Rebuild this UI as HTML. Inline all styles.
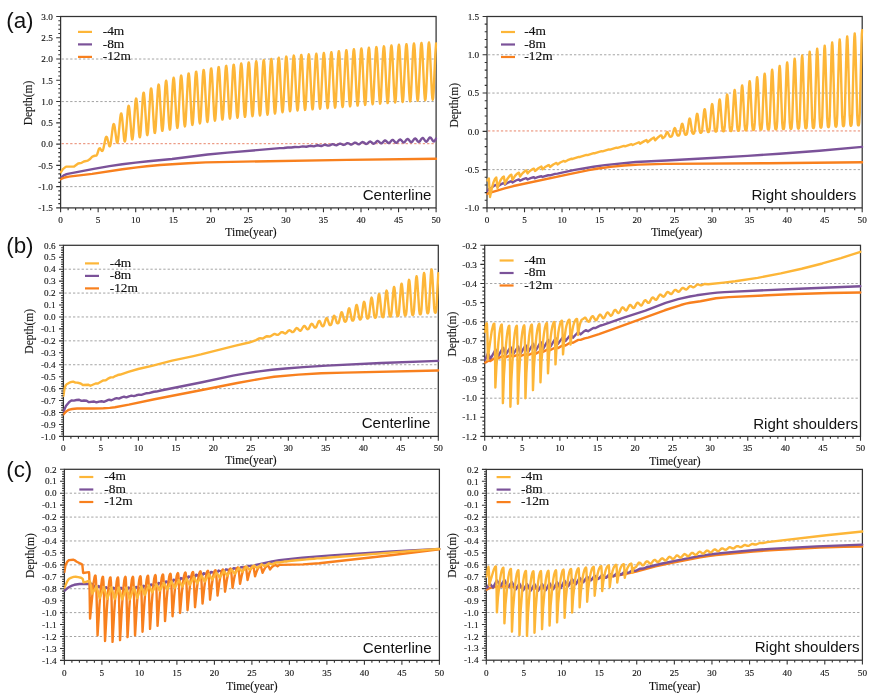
<!DOCTYPE html>
<html><head><meta charset="utf-8"><title>Depth vs time</title>
<style>
html,body{margin:0;padding:0;background:#fff;}
svg{display:block;}
.tl{font-family:"Liberation Serif","Times New Roman",serif;font-size:9.2px;fill:#111;stroke:#111;stroke-width:0.12px;}
.at{font-family:"Liberation Serif","Times New Roman",serif;font-size:11.5px;fill:#111;stroke:#111;stroke-width:0.12px;}
.lg{font-family:"Liberation Serif","Times New Roman",serif;font-size:13.4px;fill:#111;stroke:#111;stroke-width:0.15px;}
.pt{font-family:"Liberation Sans",Arial,sans-serif;font-size:15.1px;fill:#111;}
.pl{font-family:"Liberation Sans",Arial,sans-serif;font-size:22.4px;fill:#111;}
</style></head><body>
<svg width="875" height="699" viewBox="0 0 875 699">
<rect width="875" height="699" fill="#fff"/>

<text x="6.2" y="28.0" class="pl">(a)</text>
<text x="6.2" y="252.9" class="pl">(b)</text>
<text x="6.2" y="476.6" class="pl">(c)</text>
<clipPath id="c622"><rect x="60.00" y="15.90" width="377.30" height="192.60"/></clipPath>
<line x1="61.60" y1="59.03" x2="435.10" y2="59.03" stroke="#a4a4a4" stroke-width="1" stroke-dasharray="2.3 2.0"/>
<line x1="61.60" y1="101.57" x2="435.10" y2="101.57" stroke="#a4a4a4" stroke-width="1" stroke-dasharray="2.3 2.0"/>
<line x1="61.60" y1="186.63" x2="435.10" y2="186.63" stroke="#a4a4a4" stroke-width="1" stroke-dasharray="2.3 2.0"/>
<line x1="61.60" y1="143.70" x2="435.10" y2="143.70" stroke="#E8856A" stroke-width="1" stroke-dasharray="2.3 2.0"/>
<rect x="60.60" y="16.50" width="375.50" height="191.40" fill="none" stroke="#333333" stroke-width="1.25"/>
<g clip-path="url(#c622)" fill="none" stroke-width="2.40" stroke-linejoin="round" stroke-linecap="round">
<path stroke="#7B5299" d="M60.60 177.70L64.36 175.08L65.71 174.48L67.66 173.93L93.79 168.91L109.49 166.18L122.26 164.29L135.62 162.58L148.32 161.19L172.05 159.01L207.65 154.50L227.55 152.61L279.89 148.17L283.87 148.01L287.70 147.53L291.38 147.53L294.91 146.95L298.82 147.11L302.72 146.36L306.25 146.72L310.08 145.81L313.84 146.33L317.44 145.27L321.27 145.98L322.25 145.75L324.28 144.87L325.25 144.74L327.88 145.53L328.78 145.62L329.76 145.36L331.71 144.38L332.61 144.20L333.51 144.36L335.39 145.16L336.29 145.27L337.12 145.05L339.07 143.92L339.97 143.66L340.80 143.77L342.83 144.77L343.80 144.94L344.63 144.69L346.58 143.40L347.48 143.11L348.46 143.31L350.49 144.49L351.31 144.62L352.29 144.25L354.17 142.84L354.99 142.57L355.97 142.80L358.00 144.16L358.82 144.31L359.80 143.90L361.68 142.33L362.50 142.03L363.48 142.30L365.51 143.83L366.33 144.01L367.31 143.56L369.19 141.82L370.01 141.49L370.99 141.80L373.02 143.51L373.84 143.71L374.82 143.22L376.70 141.32L377.52 140.97L378.50 141.32L380.53 143.19L381.35 143.41L382.33 142.88L384.21 140.83L385.03 140.45L386.01 140.84L388.04 142.87L388.86 143.11L389.84 142.54L391.72 140.34L392.54 139.94L393.37 140.24L395.32 142.37L396.30 142.82L397.12 142.43L399.08 140.01L400.05 139.44L400.88 139.76L402.83 142.05L403.81 142.53L404.63 142.11L406.59 139.54L407.56 138.94L408.39 139.28L410.34 141.72L411.32 142.24L412.14 141.80L414.10 139.08L415.07 138.44L415.90 138.81L417.85 141.41L418.38 141.85L418.83 141.96L419.65 141.50L421.61 138.62L422.58 137.95L423.41 138.34L425.36 141.10L425.89 141.56L426.34 141.68L427.16 141.20L429.12 138.17L429.64 137.64L430.09 137.46L430.92 137.88L432.87 140.79L433.40 141.28L433.85 141.42L434.75 140.81L436.10 138.55"/>
<path stroke="#F8801E" d="M60.60 179.19L64.73 177.49L68.79 176.65L92.14 173.93L122.48 169.31L137.05 167.35L146.74 166.24L160.03 165.02L188.19 163.18L205.62 162.42L231.45 161.83L347.26 159.90L436.10 158.77"/>
<path stroke="#FDB638" d="M60.60 172.51L62.93 169.10L65.71 166.87L66.53 166.64L74.12 166.56L78.17 163.50L81.63 162.81L83.88 161.54L87.86 160.60L89.74 159.35L92.37 156.55L94.62 155.75L96.50 155.50L97.25 154.18L98.75 149.29L99.50 148.33L99.88 148.32L100.25 148.59L101.75 150.82L102.13 151.01L102.43 150.89L102.96 149.99L103.48 148.24L105.51 138.52L105.96 137.26L106.34 136.80L106.79 137.02L107.24 138.05L109.11 145.57L109.49 146.28L109.87 146.29L110.32 145.28L110.77 143.13L112.72 127.65L113.25 124.89L113.70 123.96L114.15 124.47L114.67 126.78L116.62 141.18L117.00 142.53L117.38 142.78L117.75 141.84L118.20 139.17L120.15 118.33L120.68 114.62L121.13 113.42L121.36 113.58L121.58 114.25L122.11 117.66L124.06 138.69L124.51 141.11L124.74 141.53L124.89 141.50L125.34 139.89L125.86 135.35L127.81 109.82L128.27 106.66L128.64 105.78L129.09 106.97L129.62 111.20L131.57 136.12L132.02 138.92L132.25 139.41L132.40 139.36L132.85 137.48L133.37 132.23L135.25 103.83L135.70 99.89L136.08 98.59L136.30 98.75L136.53 99.60L137.05 104.11L139.08 133.55L139.53 136.72L139.76 137.27L139.91 137.23L140.36 135.14L140.88 129.31L142.76 98.16L143.21 93.95L143.59 92.63L143.81 92.87L144.04 93.88L144.56 98.94L146.59 131.12L147.04 134.55L147.27 135.15L147.42 135.10L147.87 132.88L148.32 127.79L150.27 94.04L150.72 89.70L151.10 88.38L151.32 88.67L151.55 89.75L152.07 95.11L154.02 127.95L154.47 132.01L154.70 132.90L154.93 132.97L155.38 130.67L155.83 125.37L157.78 90.39L158.23 85.90L158.61 84.55L158.83 84.86L159.06 85.99L159.58 91.55L161.53 125.58L161.99 129.82L162.21 130.76L162.44 130.85L162.89 128.50L163.34 123.05L165.29 86.76L165.74 82.10L166.12 80.73L166.49 81.77L166.94 86.07L168.89 121.89L169.42 127.95L169.87 129.64L170.25 128.33L170.70 123.66L172.65 86.12L173.17 79.69L173.63 77.75L174.00 78.88L174.45 83.35L176.40 120.07L176.93 126.23L177.38 127.94L177.83 126.04L178.36 119.63L180.38 80.75L180.91 76.14L181.14 75.62L181.36 76.01L181.74 78.64L182.19 84.68L183.99 119.57L184.44 124.68L184.89 126.41L185.34 124.50L185.87 118.02L187.89 78.67L188.35 74.39L188.57 73.57L188.80 73.66L189.25 76.57L189.70 82.70L191.57 119.11L192.03 123.75L192.40 124.96L192.85 123.03L193.38 116.50L195.33 77.86L195.78 73.01L196.01 71.88L196.23 71.67L196.68 74.01L197.13 79.70L199.08 117.59L199.53 122.26L199.91 123.47L200.36 121.53L200.89 114.96L202.84 76.16L203.29 71.29L203.52 70.16L203.74 69.96L204.19 72.32L204.64 78.04L206.59 116.10L207.04 120.78L207.42 122.01L207.87 120.06L208.40 113.48L210.35 74.62L210.80 69.76L211.03 68.63L211.25 68.43L211.70 70.81L212.15 76.56L214.10 114.76L214.56 119.47L214.93 120.71L215.38 118.78L215.91 112.19L217.86 73.27L218.31 68.40L218.54 67.27L218.76 67.08L219.21 69.48L219.66 75.25L221.61 113.63L222.06 118.37L222.44 119.62L222.89 117.69L223.42 111.09L225.37 72.05L225.82 67.17L226.05 66.04L226.27 65.85L226.72 68.26L227.17 74.07L229.12 112.62L229.57 117.38L229.95 118.64L230.40 116.71L230.93 110.09L232.88 70.91L233.33 66.02L233.56 64.88L233.78 64.69L234.23 67.12L234.68 72.95L236.63 111.68L237.09 116.46L237.46 117.73L237.84 116.37L238.29 111.47L240.24 72.14L240.76 65.48L241.22 63.52L241.59 64.78L242.04 69.57L243.99 108.48L244.52 115.03L244.97 116.88L245.35 115.52L245.80 110.60L247.75 71.06L248.27 64.35L248.73 62.38L249.10 63.64L249.55 68.47L251.50 107.69L252.03 114.30L252.48 116.16L252.86 114.80L253.31 109.85L255.26 69.98L255.78 63.22L256.24 61.23L256.61 62.51L257.06 67.38L259.01 106.94L259.54 113.61L259.99 115.49L260.37 114.11L260.82 109.12L262.77 68.92L263.29 62.10L263.75 60.10L264.12 61.40L264.57 66.30L266.52 106.13L267.05 112.82L267.50 114.71L267.88 113.31L268.33 108.27L270.28 67.83L270.80 60.98L271.26 58.98L271.71 60.85L272.23 67.54L274.18 107.40L274.63 112.31L275.01 113.60L275.46 111.59L275.99 104.73L277.94 64.24L278.39 59.18L278.77 57.77L279.14 59.06L279.59 63.97L281.54 103.80L282.07 110.48L282.52 112.34L282.97 110.33L283.50 103.48L285.45 63.03L285.90 57.98L286.28 56.57L286.65 57.87L287.10 62.79L289.05 102.70L289.58 109.42L290.03 111.31L290.41 109.91L290.86 104.88L292.81 64.42L293.33 57.58L293.79 55.59L294.16 56.90L294.61 61.85L296.56 101.92L297.09 108.66L297.54 110.56L297.99 108.58L298.52 101.74L300.47 61.30L300.92 56.26L301.30 54.88L301.67 56.20L302.12 61.16L304.07 101.28L304.60 108.02L305.05 109.93L305.50 107.95L306.03 101.12L307.98 60.71L308.43 55.68L308.81 54.30L309.26 56.21L309.78 62.95L311.73 103.06L312.19 108.02L312.56 109.35L312.94 107.97L313.39 102.94L315.34 62.53L315.86 55.70L316.32 53.72L316.69 55.05L317.14 60.01L319.09 100.11L319.62 106.86L320.07 108.77L320.45 107.38L320.90 102.35L322.85 61.88L323.37 55.03L323.83 53.04L324.20 54.36L324.65 59.32L326.60 99.51L327.13 106.28L327.58 108.20L327.96 106.82L328.41 101.76L330.36 61.07L330.88 54.17L331.34 52.15L331.71 53.47L332.16 58.45L334.11 98.90L334.64 105.72L335.09 107.66L335.47 106.26L335.92 101.16L337.87 60.13L338.39 53.17L338.85 51.13L339.22 52.46L339.67 57.48L341.62 98.25L342.15 105.12L342.60 107.06L342.98 105.65L343.43 100.51L345.38 59.16L345.90 52.16L346.36 50.11L346.73 51.45L347.18 56.50L349.13 97.52L349.66 104.43L350.11 106.37L350.49 104.95L350.94 99.78L352.89 58.27L353.41 51.25L353.87 49.21L354.24 50.56L354.69 55.64L356.64 96.77L357.17 103.68L357.62 105.63L358.07 103.60L358.60 96.58L360.55 55.06L361.00 49.89L361.38 48.47L361.75 49.82L362.20 54.91L364.15 96.06L364.68 102.98L365.13 104.94L365.51 103.51L365.96 98.35L367.91 56.84L368.43 49.82L368.89 47.78L369.26 49.14L369.71 54.23L371.66 95.42L372.19 102.35L372.64 104.30L373.02 102.88L373.47 97.71L375.42 56.16L375.94 49.13L376.40 47.09L376.77 48.44L377.22 53.54L379.17 94.79L379.70 101.74L380.15 103.70L380.53 102.28L380.98 97.09L382.93 55.43L383.45 48.38L383.91 46.33L384.28 47.69L384.73 52.79L386.68 94.18L387.21 101.14L387.66 103.12L388.04 101.69L388.49 96.49L390.44 54.68L390.96 47.60L391.42 45.54L391.79 46.91L392.24 52.03L394.19 93.57L394.72 100.56L395.17 102.54L395.55 101.11L396.00 95.89L397.95 53.94L398.47 46.85L398.93 44.79L399.30 46.16L399.75 51.30L401.70 92.97L402.23 99.98L402.68 101.96L403.06 100.53L403.51 95.30L405.46 53.27L405.98 46.17L406.44 44.12L406.81 45.49L407.26 50.65L409.21 92.38L409.74 99.40L410.19 101.39L410.57 99.95L411.02 94.72L412.97 52.67L413.49 45.57L413.95 43.52L414.32 44.90L414.77 50.06L416.72 91.81L417.25 98.83L417.70 100.81L418.15 98.76L418.68 91.66L420.63 49.62L421.08 44.39L421.46 42.96L421.91 44.95L422.43 51.97L424.38 93.71L424.84 98.87L425.21 100.25L425.66 98.19L426.19 91.10L428.14 49.11L428.59 43.88L428.97 42.45L429.42 44.44L429.94 51.46L431.89 93.16L432.35 98.31L432.72 99.69L433.17 97.64L433.62 91.84L435.35 53.90L436.10 43.43"/>
</g>
<line x1="78.00" y1="31.90" x2="92.00" y2="31.90" stroke="#FDB638" stroke-width="2.2"/>
<text x="102.70" y="35.10" class="lg">-4m</text>
<line x1="78.00" y1="44.40" x2="92.00" y2="44.40" stroke="#7B5299" stroke-width="2.2"/>
<text x="102.70" y="47.60" class="lg">-8m</text>
<line x1="78.00" y1="56.90" x2="92.00" y2="56.90" stroke="#F8801E" stroke-width="2.2"/>
<text x="102.70" y="60.10" class="lg">-12m</text>
<text x="52.80" y="19.70" class="tl" text-anchor="end">3.0</text>
<text x="52.80" y="40.97" class="tl" text-anchor="end">2.5</text>
<text x="52.80" y="62.23" class="tl" text-anchor="end">2.0</text>
<text x="52.80" y="83.50" class="tl" text-anchor="end">1.5</text>
<text x="52.80" y="104.77" class="tl" text-anchor="end">1.0</text>
<text x="52.80" y="126.03" class="tl" text-anchor="end">0.5</text>
<text x="52.80" y="147.30" class="tl" text-anchor="end">0.0</text>
<text x="52.80" y="168.57" class="tl" text-anchor="end">-0.5</text>
<text x="52.80" y="189.83" class="tl" text-anchor="end">-1.0</text>
<text x="52.80" y="211.10" class="tl" text-anchor="end">-1.5</text>
<text x="60.60" y="222.70" class="tl" text-anchor="middle">0</text>
<text x="98.15" y="222.70" class="tl" text-anchor="middle">5</text>
<text x="135.70" y="222.70" class="tl" text-anchor="middle">10</text>
<text x="173.25" y="222.70" class="tl" text-anchor="middle">15</text>
<text x="210.80" y="222.70" class="tl" text-anchor="middle">20</text>
<text x="248.35" y="222.70" class="tl" text-anchor="middle">25</text>
<text x="285.90" y="222.70" class="tl" text-anchor="middle">30</text>
<text x="323.45" y="222.70" class="tl" text-anchor="middle">35</text>
<text x="361.00" y="222.70" class="tl" text-anchor="middle">40</text>
<text x="398.55" y="222.70" class="tl" text-anchor="middle">45</text>
<text x="436.10" y="222.70" class="tl" text-anchor="middle">50</text>
<path d="M60.60 16.50H56.20M60.60 20.75H58.30M60.60 25.01H58.30M60.60 29.26H58.30M60.60 33.51H58.30M60.60 37.77H56.20M60.60 42.02H58.30M60.60 46.27H58.30M60.60 50.53H58.30M60.60 54.78H58.30M60.60 59.03H56.20M60.60 63.29H58.30M60.60 67.54H58.30M60.60 71.79H58.30M60.60 76.05H58.30M60.60 80.30H56.20M60.60 84.55H58.30M60.60 88.81H58.30M60.60 93.06H58.30M60.60 97.31H58.30M60.60 101.57H56.20M60.60 105.82H58.30M60.60 110.07H58.30M60.60 114.33H58.30M60.60 118.58H58.30M60.60 122.83H56.20M60.60 127.09H58.30M60.60 131.34H58.30M60.60 135.59H58.30M60.60 139.85H58.30M60.60 144.10H56.20M60.60 148.35H58.30M60.60 152.61H58.30M60.60 156.86H58.30M60.60 161.11H58.30M60.60 165.37H56.20M60.60 169.62H58.30M60.60 173.87H58.30M60.60 178.13H58.30M60.60 182.38H58.30M60.60 186.63H56.20M60.60 190.89H58.30M60.60 195.14H58.30M60.60 199.39H58.30M60.60 203.65H58.30M60.60 207.90H56.20M60.60 207.90V212.30M68.11 207.90V210.20M75.62 207.90V210.20M83.13 207.90V210.20M90.64 207.90V210.20M98.15 207.90V212.30M105.66 207.90V210.20M113.17 207.90V210.20M120.68 207.90V210.20M128.19 207.90V210.20M135.70 207.90V212.30M143.21 207.90V210.20M150.72 207.90V210.20M158.23 207.90V210.20M165.74 207.90V210.20M173.25 207.90V212.30M180.76 207.90V210.20M188.27 207.90V210.20M195.78 207.90V210.20M203.29 207.90V210.20M210.80 207.90V212.30M218.31 207.90V210.20M225.82 207.90V210.20M233.33 207.90V210.20M240.84 207.90V210.20M248.35 207.90V212.30M255.86 207.90V210.20M263.37 207.90V210.20M270.88 207.90V210.20M278.39 207.90V210.20M285.90 207.90V212.30M293.41 207.90V210.20M300.92 207.90V210.20M308.43 207.90V210.20M315.94 207.90V210.20M323.45 207.90V212.30M330.96 207.90V210.20M338.47 207.90V210.20M345.98 207.90V210.20M353.49 207.90V210.20M361.00 207.90V212.30M368.51 207.90V210.20M376.02 207.90V210.20M383.53 207.90V210.20M391.04 207.90V210.20M398.55 207.90V212.30M406.06 207.90V210.20M413.57 207.90V210.20M421.08 207.90V210.20M428.59 207.90V210.20M436.10 207.90V212.30" stroke="#333333" stroke-width="1.1" fill="none"/>
<text x="251.00" y="235.90" class="at" text-anchor="middle">Time(year)</text>
<text x="0" y="0" class="at" text-anchor="middle" transform="translate(31.90 103.00) rotate(-90)">Depth(m)</text>
<text x="431.50" y="200.00" class="pt" text-anchor="end">Centerline</text>
<clipPath id="c4886"><rect x="486.40" y="15.90" width="377.00" height="192.60"/></clipPath>
<line x1="488.00" y1="54.78" x2="861.20" y2="54.78" stroke="#a4a4a4" stroke-width="1" stroke-dasharray="2.3 2.0"/>
<line x1="488.00" y1="93.06" x2="861.20" y2="93.06" stroke="#a4a4a4" stroke-width="1" stroke-dasharray="2.3 2.0"/>
<line x1="488.00" y1="169.62" x2="861.20" y2="169.62" stroke="#a4a4a4" stroke-width="1" stroke-dasharray="2.3 2.0"/>
<line x1="488.00" y1="130.94" x2="861.20" y2="130.94" stroke="#E8856A" stroke-width="1" stroke-dasharray="2.3 2.0"/>
<rect x="487.00" y="16.50" width="375.20" height="191.40" fill="none" stroke="#333333" stroke-width="1.25"/>
<g clip-path="url(#c4886)" fill="none" stroke-width="2.40" stroke-linejoin="round" stroke-linecap="round">
<path stroke="#7B5299" d="M487.00 191.47L488.88 188.88L490.00 189.52L491.13 188.09L492.25 187.06L493.90 185.94L495.55 185.16L496.38 184.90L497.51 186.45L500.73 184.39L503.51 183.14L503.88 183.02L505.01 184.51L508.09 182.58L510.71 181.34L511.39 181.12L512.51 182.51L515.89 180.50L518.82 179.39L520.02 180.76L523.24 179.14L526.17 178.22L526.40 178.19L527.52 179.51L530.60 178.12L533.52 177.27L533.90 177.21L535.03 178.25L537.65 177.20L540.28 176.49L541.40 176.28L542.53 176.95L548.23 175.24L548.91 175.10L550.03 175.38L555.14 173.90L557.54 173.60L573.45 170.11L593.56 166.70L604.89 165.08L635.73 161.99L666.42 160.52L706.87 158.29L747.46 155.88L779.43 153.76L819.43 150.68L862.20 146.88"/>
<path stroke="#F8801E" d="M487.00 193.89L492.10 192.13L504.63 188.35L513.49 186.04L568.27 174.36L588.75 170.16L598.21 168.46L610.52 166.86L624.10 165.49L638.88 164.61L664.62 163.92L767.65 163.29L862.20 162.27"/>
<path stroke="#FDB638" d="M487.00 180.34L487.53 180.09L488.88 178.50L490.00 197.03L491.95 187.91L493.38 182.61L494.80 179.16L495.55 178.09L496.30 177.53L497.51 188.07L498.93 183.76L500.51 180.28L502.16 177.82L503.06 176.95L503.81 176.53L505.01 183.71L506.44 180.62L507.86 178.16L509.36 176.20L510.79 174.96L511.39 174.67L512.51 179.88L515.06 175.92L516.42 174.40L517.77 173.28L518.89 172.68L520.02 176.51L521.67 174.29L523.32 172.49L524.97 171.12L526.40 170.39L527.52 173.45L529.02 171.80L530.60 170.43L532.17 169.39L533.75 168.67L533.90 168.62L535.03 171.00L538.70 168.00L541.40 166.56L542.53 169.31L545.53 166.71L548.53 165.14L548.91 165.03L550.03 167.02L553.26 164.49L556.11 162.98L556.41 162.88L557.54 164.41L560.24 162.52L563.02 161.23L563.92 160.94L565.04 161.63L567.67 160.22L570.44 159.08L571.42 158.76L572.55 158.97L578.77 156.84L580.05 156.96L586.43 154.95L587.55 155.13L593.71 153.12L595.06 153.23L600.76 151.37L601.44 151.19L602.56 151.37L608.94 149.42L610.07 149.61L616.44 147.72L617.57 147.94L623.95 145.96L625.07 146.42L631.45 144.15L632.58 145.01L638.96 142.24L640.08 143.65L644.28 141.15L646.46 140.10L647.59 142.20L651.56 139.01L653.96 137.59L655.09 140.31L658.24 137.19L660.57 135.40L661.47 135.42L662.59 138.24L664.09 137.31L665.07 136.19L666.57 132.80L667.17 132.08L667.55 132.19L667.92 132.68L669.72 136.41L670.25 136.73L671.15 136.64L671.75 136.26L672.27 135.34L674.00 129.21L674.68 128.10L675.05 128.32L675.43 129.13L676.63 133.43L677.23 134.97L677.83 135.55L678.73 135.48L679.25 135.04L679.78 133.77L681.43 125.46L681.80 124.16L682.18 123.65L682.55 124.04L682.93 125.26L684.66 133.66L685.26 134.70L686.16 134.73L686.76 134.10L687.28 132.31L688.93 120.81L689.31 119.07L689.68 118.45L689.98 118.85L690.36 120.39L692.16 132.27L692.76 133.63L693.59 133.71L694.19 133.07L694.71 131.07L696.44 116.48L696.81 114.40L697.11 113.73L697.49 114.26L697.86 116.22L699.66 130.94L700.26 132.63L700.56 132.81L701.09 132.77L701.69 132.02L702.21 129.65L703.94 112.35L704.32 109.91L704.62 109.14L704.99 109.81L705.37 112.16L707.17 129.72L707.77 131.75L708.07 131.98L708.59 131.96L708.89 131.75L709.19 131.11L709.72 128.32L711.44 107.84L711.82 104.97L712.12 104.08L712.50 104.93L712.87 107.77L714.67 128.79L715.27 131.23L715.57 131.52L716.10 131.53L716.40 131.30L716.70 130.57L717.22 127.35L718.95 103.75L719.32 100.47L719.62 99.49L720.00 100.50L720.37 103.82L722.18 128.10L722.78 130.93L723.08 131.27L723.60 131.28L723.90 131.03L724.20 130.19L724.73 126.50L726.45 99.42L726.83 95.69L727.13 94.59L727.50 95.79L727.88 99.62L729.68 127.45L730.28 130.66L730.58 131.05L731.11 131.07L731.41 130.78L731.71 129.84L732.23 125.67L733.96 95.34L734.33 91.20L734.63 90.00L735.01 91.37L735.38 95.68L737.18 126.74L737.78 130.32L738.08 130.74L738.61 130.75L738.91 130.42L739.21 129.38L739.73 124.76L741.46 91.25L741.84 86.71L742.14 85.40L742.51 86.95L742.89 91.72L744.69 125.94L745.29 129.85L745.59 130.32L746.11 130.33L746.41 129.97L746.71 128.83L747.24 123.79L748.96 87.41L749.34 82.50L749.64 81.12L750.02 82.83L750.39 88.04L752.19 125.17L752.79 129.40L753.09 129.91L753.62 129.93L753.92 129.55L754.22 128.32L754.74 122.92L756.47 83.97L756.84 78.75L757.14 77.29L757.52 79.15L757.89 84.76L759.70 124.54L760.30 129.08L760.60 129.63L761.12 129.65L761.42 129.26L761.72 127.96L762.25 122.20L763.97 80.72L764.35 75.16L764.65 73.61L765.02 75.61L765.40 81.59L767.20 123.99L767.80 128.84L768.10 129.43L768.63 129.46L768.93 129.04L769.23 127.65L769.75 121.52L771.48 77.27L771.85 71.35L772.15 69.71L772.53 71.85L772.90 78.24L774.70 123.47L775.30 128.63L775.60 129.26L776.13 129.29L776.43 128.84L776.73 127.37L777.25 120.87L778.98 74.01L779.36 67.76L779.66 66.03L780.03 68.32L780.41 75.10L782.21 122.96L782.81 128.41L783.11 129.07L783.63 129.11L783.93 128.64L784.23 127.08L784.76 120.22L786.41 72.63L786.78 65.20L787.16 62.44L787.54 64.84L787.91 71.99L789.71 122.41L790.31 128.15L790.61 128.85L791.14 128.88L791.44 128.38L791.74 126.74L792.26 119.50L793.91 69.32L794.29 61.50L794.66 58.61L795.04 61.17L795.41 68.74L797.14 120.52L797.74 127.50L798.04 128.50L798.57 128.66L798.94 128.10L799.24 126.39L799.77 118.84L801.42 66.66L801.79 58.54L802.17 55.55L802.54 58.22L802.92 66.07L804.64 119.90L805.24 127.16L805.54 128.21L806.07 128.37L806.45 127.79L806.75 126.00L807.27 118.09L808.92 63.37L809.30 54.86L809.67 51.72L810.05 54.53L810.42 62.78L812.15 119.20L812.75 126.79L813.05 127.88L813.57 128.05L813.95 127.45L814.25 125.58L814.77 117.36L816.43 60.67L816.80 51.88L817.18 48.66L817.55 51.59L817.93 60.14L819.65 118.54L820.25 126.38L820.55 127.51L821.08 127.68L821.45 127.05L821.75 125.12L822.28 116.61L823.93 58.01L824.30 48.92L824.68 45.59L825.06 48.63L825.43 57.47L827.16 117.78L827.76 125.88L828.06 127.03L828.58 127.20L828.96 126.55L829.26 124.56L829.78 115.78L831.43 55.33L831.81 45.96L832.18 42.53L832.56 45.66L832.93 54.79L834.66 116.97L835.26 125.32L835.56 126.51L836.09 126.68L836.46 126.01L836.76 123.96L837.29 114.91L838.94 52.64L839.31 43.00L839.69 39.47L840.06 42.70L840.44 52.10L842.16 116.16L842.76 124.77L843.06 126.00L843.59 126.18L843.97 125.49L844.27 123.38L844.79 114.07L846.44 49.96L846.82 40.04L847.19 36.41L847.57 39.74L847.94 49.43L849.67 115.42L850.27 124.29L850.57 125.56L850.79 125.77L851.09 125.75L851.47 125.05L851.77 122.88L852.29 113.30L853.95 47.29L854.32 37.08L854.70 33.34L855.07 36.78L855.45 46.76L857.17 114.72L857.77 123.86L858.07 125.17L858.30 125.39L858.60 125.37L858.97 124.65L859.27 122.42L859.80 112.56L861.45 44.63L861.82 34.12L862.20 30.28"/>
</g>
<line x1="501.00" y1="32.00" x2="515.00" y2="32.00" stroke="#FDB638" stroke-width="2.2"/>
<text x="524.30" y="35.20" class="lg">-4m</text>
<line x1="501.00" y1="44.50" x2="515.00" y2="44.50" stroke="#7B5299" stroke-width="2.2"/>
<text x="524.30" y="47.70" class="lg">-8m</text>
<line x1="501.00" y1="57.00" x2="515.00" y2="57.00" stroke="#F8801E" stroke-width="2.2"/>
<text x="524.30" y="60.20" class="lg">-12m</text>
<text x="479.20" y="19.70" class="tl" text-anchor="end">1.5</text>
<text x="479.20" y="57.98" class="tl" text-anchor="end">1.0</text>
<text x="479.20" y="96.26" class="tl" text-anchor="end">0.5</text>
<text x="479.20" y="134.54" class="tl" text-anchor="end">0.0</text>
<text x="479.20" y="172.82" class="tl" text-anchor="end">-0.5</text>
<text x="479.20" y="211.10" class="tl" text-anchor="end">-1.0</text>
<text x="487.00" y="222.70" class="tl" text-anchor="middle">0</text>
<text x="524.52" y="222.70" class="tl" text-anchor="middle">5</text>
<text x="562.04" y="222.70" class="tl" text-anchor="middle">10</text>
<text x="599.56" y="222.70" class="tl" text-anchor="middle">15</text>
<text x="637.08" y="222.70" class="tl" text-anchor="middle">20</text>
<text x="674.60" y="222.70" class="tl" text-anchor="middle">25</text>
<text x="712.12" y="222.70" class="tl" text-anchor="middle">30</text>
<text x="749.64" y="222.70" class="tl" text-anchor="middle">35</text>
<text x="787.16" y="222.70" class="tl" text-anchor="middle">40</text>
<text x="824.68" y="222.70" class="tl" text-anchor="middle">45</text>
<text x="862.20" y="222.70" class="tl" text-anchor="middle">50</text>
<path d="M487.00 16.50H482.60M487.00 24.16H484.70M487.00 31.81H484.70M487.00 39.47H484.70M487.00 47.12H484.70M487.00 54.78H482.60M487.00 62.44H484.70M487.00 70.09H484.70M487.00 77.75H484.70M487.00 85.40H484.70M487.00 93.06H482.60M487.00 100.72H484.70M487.00 108.37H484.70M487.00 116.03H484.70M487.00 123.68H484.70M487.00 131.34H482.60M487.00 139.00H484.70M487.00 146.65H484.70M487.00 154.31H484.70M487.00 161.96H484.70M487.00 169.62H482.60M487.00 177.28H484.70M487.00 184.93H484.70M487.00 192.59H484.70M487.00 200.24H484.70M487.00 207.90H482.60M487.00 207.90V212.30M494.50 207.90V210.20M502.01 207.90V210.20M509.51 207.90V210.20M517.02 207.90V210.20M524.52 207.90V212.30M532.02 207.90V210.20M539.53 207.90V210.20M547.03 207.90V210.20M554.54 207.90V210.20M562.04 207.90V212.30M569.54 207.90V210.20M577.05 207.90V210.20M584.55 207.90V210.20M592.06 207.90V210.20M599.56 207.90V212.30M607.06 207.90V210.20M614.57 207.90V210.20M622.07 207.90V210.20M629.58 207.90V210.20M637.08 207.90V212.30M644.58 207.90V210.20M652.09 207.90V210.20M659.59 207.90V210.20M667.10 207.90V210.20M674.60 207.90V212.30M682.10 207.90V210.20M689.61 207.90V210.20M697.11 207.90V210.20M704.62 207.90V210.20M712.12 207.90V212.30M719.62 207.90V210.20M727.13 207.90V210.20M734.63 207.90V210.20M742.14 207.90V210.20M749.64 207.90V212.30M757.14 207.90V210.20M764.65 207.90V210.20M772.15 207.90V210.20M779.66 207.90V210.20M787.16 207.90V212.30M794.66 207.90V210.20M802.17 207.90V210.20M809.67 207.90V210.20M817.18 207.90V210.20M824.68 207.90V212.30M832.18 207.90V210.20M839.69 207.90V210.20M847.19 207.90V210.20M854.70 207.90V210.20M862.20 207.90V212.30" stroke="#333333" stroke-width="1.1" fill="none"/>
<text x="676.80" y="235.90" class="at" text-anchor="middle">Time(year)</text>
<text x="0" y="0" class="at" text-anchor="middle" transform="translate(458.20 105.20) rotate(-90)">Depth(m)</text>
<text x="856.30" y="199.80" class="pt" text-anchor="end">Right shoulders</text>
<clipPath id="c879"><rect x="62.80" y="244.70" width="376.70" height="192.30"/></clipPath>
<line x1="64.40" y1="269.19" x2="437.30" y2="269.19" stroke="#a4a4a4" stroke-width="1" stroke-dasharray="2.3 2.0"/>
<line x1="64.40" y1="293.07" x2="437.30" y2="293.07" stroke="#a4a4a4" stroke-width="1" stroke-dasharray="2.3 2.0"/>
<line x1="64.40" y1="316.96" x2="437.30" y2="316.96" stroke="#a4a4a4" stroke-width="1" stroke-dasharray="2.3 2.0"/>
<line x1="64.40" y1="340.85" x2="437.30" y2="340.85" stroke="#a4a4a4" stroke-width="1" stroke-dasharray="2.3 2.0"/>
<line x1="64.40" y1="364.74" x2="437.30" y2="364.74" stroke="#a4a4a4" stroke-width="1" stroke-dasharray="2.3 2.0"/>
<line x1="64.40" y1="388.62" x2="437.30" y2="388.62" stroke="#a4a4a4" stroke-width="1" stroke-dasharray="2.3 2.0"/>
<line x1="64.40" y1="412.51" x2="437.30" y2="412.51" stroke="#a4a4a4" stroke-width="1" stroke-dasharray="2.3 2.0"/>
<rect x="63.40" y="245.30" width="374.90" height="191.10" fill="none" stroke="#333333" stroke-width="1.25"/>
<g clip-path="url(#c879)" fill="none" stroke-width="2.40" stroke-linejoin="round" stroke-linecap="round">
<path stroke="#7B5299" d="M63.40 412.51L64.90 408.21L66.10 405.79L69.02 402.25L70.30 401.18L71.65 400.41L73.90 400.60L76.52 399.96L79.15 399.77L81.40 400.87L83.94 400.52L86.64 400.75L88.89 402.17L94.14 401.51L96.39 402.41L99.17 401.65L101.64 401.23L103.89 401.83L108.39 399.94L109.14 399.75L111.39 400.25L114.24 398.97L116.64 398.19L118.89 398.67L121.73 397.43L124.13 396.72L126.38 397.30L129.01 396.29L131.41 395.69L133.88 396.17L136.43 395.29L138.98 394.67L141.38 394.85L146.63 393.21L148.88 393.16L153.90 391.77L156.38 391.55L160.80 390.46L202.04 382.21L232.93 375.69L245.75 373.32L259.02 371.32L271.92 369.73L285.64 368.44L303.26 367.11L326.58 365.65L381.09 363.01L438.30 360.92"/>
<path stroke="#F8801E" d="M63.40 414.54L65.57 412.02L67.75 410.38L69.32 409.61L72.25 408.98L77.05 408.46L94.14 408.44L103.51 408.18L109.74 407.86L114.91 407.20L128.86 404.68L154.43 399.22L201.96 390.01L237.28 382.95L261.95 378.58L274.09 376.81L298.46 374.58L321.26 373.28L344.72 372.58L438.30 370.47"/>
<path stroke="#FDB638" d="M63.40 395.79L64.52 388.44L65.65 385.54L66.32 384.60L67.15 383.92L69.32 382.67L71.65 381.92L73.15 381.63L75.40 382.62L77.05 382.62L79.07 383.04L80.65 383.51L82.89 385.00L88.14 384.71L90.39 385.76L95.64 383.49L97.89 383.56L102.99 380.54L105.39 380.41L108.01 378.67L110.64 377.37L112.89 377.42L115.29 376.06L117.76 375.04L120.38 374.52L128.33 371.84L138.16 369.00L151.95 365.85L172.05 360.57L192.37 356.35L200.91 354.40L235.63 345.64L249.13 342.53L256.10 340.11L259.25 338.41L260.07 338.30L262.02 338.55L262.92 338.44L265.85 336.63L266.90 336.24L269.60 336.50L270.57 336.37L274.09 334.04L275.14 334.05L277.17 334.87L278.07 334.82L278.97 334.26L280.77 332.52L281.59 332.08L282.49 332.14L284.44 333.32L285.42 333.45L286.39 332.85L288.41 330.66L289.39 330.26L290.21 330.54L292.01 331.99L292.91 332.13L293.81 331.52L295.76 328.70L296.66 328.04L297.56 328.35L299.51 330.52L300.41 330.71L301.31 330.02L303.19 326.75L304.09 325.90L304.54 325.93L304.99 326.27L306.94 329.01L307.38 329.29L307.91 329.28L308.43 328.98L308.88 328.44L310.76 324.63L311.58 323.77L312.03 323.82L312.48 324.22L314.43 327.33L314.88 327.62L315.41 327.61L315.93 327.30L316.46 326.56L318.33 321.86L318.78 321.13L319.16 320.88L319.53 320.99L319.98 321.56L321.86 325.75L322.38 326.24L322.98 326.25L323.51 325.87L323.96 325.09L325.76 319.38L326.20 318.40L326.58 318.04L326.95 318.15L327.40 318.89L329.35 324.54L329.88 325.12L330.48 325.12L331.00 324.72L331.45 323.85L333.33 317.07L333.78 316.05L334.15 315.75L334.53 315.99L334.98 316.93L336.78 322.72L337.30 323.37L337.90 323.39L338.50 322.94L339.03 321.77L340.83 313.85L341.28 312.55L341.65 312.16L342.03 312.45L342.40 313.38L344.28 320.86L344.80 321.66L345.47 321.71L346.07 321.16L346.60 319.69L348.32 310.27L348.70 308.86L349.07 308.24L349.45 308.51L349.90 309.92L351.70 319.32L352.22 320.47L352.52 320.67L352.97 320.64L353.57 320.01L354.10 318.28L355.82 307.18L356.20 305.57L356.57 304.90L356.95 305.26L357.40 306.96L359.20 317.90L359.72 319.23L360.02 319.46L360.47 319.44L361.07 318.77L361.60 316.83L363.32 304.37L363.69 302.55L364.07 301.79L364.44 302.20L364.89 304.14L366.69 316.75L367.22 318.32L367.52 318.61L367.97 318.61L368.57 317.83L369.09 315.55L370.82 300.67L371.19 298.51L371.57 297.61L371.94 298.13L372.39 300.47L374.19 315.54L374.72 317.41L375.02 317.76L375.47 317.78L375.99 317.11L376.52 314.78L378.32 297.42L378.69 295.00L379.07 294.03L379.44 294.66L379.89 297.38L381.69 314.61L382.21 316.75L382.51 317.15L382.96 317.18L383.49 316.44L384.01 313.82L385.81 294.33L386.19 291.64L386.56 290.57L386.94 291.29L387.39 294.36L389.19 313.69L389.71 316.09L390.01 316.54L390.46 316.58L390.99 315.77L391.51 312.86L393.31 291.14L393.69 288.15L394.06 286.98L394.44 287.82L394.89 291.27L396.69 312.87L397.21 315.55L397.51 316.06L397.96 316.10L398.49 315.21L399.01 312.00L400.81 288.17L401.18 284.91L401.56 283.64L401.93 284.56L402.38 288.34L404.18 311.96L404.71 314.89L405.01 315.45L405.46 315.50L405.98 314.53L406.51 311.00L408.31 284.78L408.68 281.19L409.06 279.81L409.43 280.84L409.88 285.02L411.68 311.12L412.21 314.35L412.51 314.96L412.96 315.02L413.48 313.96L414.01 310.11L415.81 281.61L416.18 277.73L416.56 276.26L416.93 277.41L417.31 281.01L419.18 310.24L419.70 313.71L420.00 314.37L420.45 314.42L420.98 313.26L421.50 309.11L423.30 278.69L423.68 274.57L424.05 273.01L424.43 274.23L424.80 278.04L426.68 308.93L427.20 312.59L427.50 313.29L427.95 313.35L428.48 312.12L429.00 307.73L430.80 275.36L431.18 271.01L431.55 269.39L431.93 270.74L432.30 274.87L434.18 308.00L434.70 311.92L435.00 312.67L435.45 312.75L435.75 312.33L436.05 311.05L436.58 305.90L438.30 273.31"/>
</g>
<line x1="85.00" y1="263.40" x2="99.00" y2="263.40" stroke="#FDB638" stroke-width="2.2"/>
<text x="109.70" y="266.60" class="lg">-4m</text>
<line x1="85.00" y1="275.90" x2="99.00" y2="275.90" stroke="#7B5299" stroke-width="2.2"/>
<text x="109.70" y="279.10" class="lg">-8m</text>
<line x1="85.00" y1="288.40" x2="99.00" y2="288.40" stroke="#F8801E" stroke-width="2.2"/>
<text x="109.70" y="291.60" class="lg">-12m</text>
<text x="55.60" y="248.50" class="tl" text-anchor="end">0.6</text>
<text x="55.60" y="260.44" class="tl" text-anchor="end">0.5</text>
<text x="55.60" y="272.39" class="tl" text-anchor="end">0.4</text>
<text x="55.60" y="284.33" class="tl" text-anchor="end">0.3</text>
<text x="55.60" y="296.27" class="tl" text-anchor="end">0.2</text>
<text x="55.60" y="308.22" class="tl" text-anchor="end">0.1</text>
<text x="55.60" y="320.16" class="tl" text-anchor="end">0.0</text>
<text x="55.60" y="332.11" class="tl" text-anchor="end">-0.1</text>
<text x="55.60" y="344.05" class="tl" text-anchor="end">-0.2</text>
<text x="55.60" y="355.99" class="tl" text-anchor="end">-0.3</text>
<text x="55.60" y="367.94" class="tl" text-anchor="end">-0.4</text>
<text x="55.60" y="379.88" class="tl" text-anchor="end">-0.5</text>
<text x="55.60" y="391.82" class="tl" text-anchor="end">-0.6</text>
<text x="55.60" y="403.77" class="tl" text-anchor="end">-0.7</text>
<text x="55.60" y="415.71" class="tl" text-anchor="end">-0.8</text>
<text x="55.60" y="427.66" class="tl" text-anchor="end">-0.9</text>
<text x="55.60" y="439.60" class="tl" text-anchor="end">-1.0</text>
<text x="63.40" y="451.20" class="tl" text-anchor="middle">0</text>
<text x="100.89" y="451.20" class="tl" text-anchor="middle">5</text>
<text x="138.38" y="451.20" class="tl" text-anchor="middle">10</text>
<text x="175.87" y="451.20" class="tl" text-anchor="middle">15</text>
<text x="213.36" y="451.20" class="tl" text-anchor="middle">20</text>
<text x="250.85" y="451.20" class="tl" text-anchor="middle">25</text>
<text x="288.34" y="451.20" class="tl" text-anchor="middle">30</text>
<text x="325.83" y="451.20" class="tl" text-anchor="middle">35</text>
<text x="363.32" y="451.20" class="tl" text-anchor="middle">40</text>
<text x="400.81" y="451.20" class="tl" text-anchor="middle">45</text>
<text x="438.30" y="451.20" class="tl" text-anchor="middle">50</text>
<path d="M63.40 245.30H59.00M63.40 247.69H61.10M63.40 250.08H61.10M63.40 252.47H61.10M63.40 254.86H61.10M63.40 257.24H59.00M63.40 259.63H61.10M63.40 262.02H61.10M63.40 264.41H61.10M63.40 266.80H61.10M63.40 269.19H59.00M63.40 271.58H61.10M63.40 273.97H61.10M63.40 276.35H61.10M63.40 278.74H61.10M63.40 281.13H59.00M63.40 283.52H61.10M63.40 285.91H61.10M63.40 288.30H61.10M63.40 290.69H61.10M63.40 293.07H59.00M63.40 295.46H61.10M63.40 297.85H61.10M63.40 300.24H61.10M63.40 302.63H61.10M63.40 305.02H59.00M63.40 307.41H61.10M63.40 309.80H61.10M63.40 312.19H61.10M63.40 314.57H61.10M63.40 316.96H59.00M63.40 319.35H61.10M63.40 321.74H61.10M63.40 324.13H61.10M63.40 326.52H61.10M63.40 328.91H59.00M63.40 331.30H61.10M63.40 333.68H61.10M63.40 336.07H61.10M63.40 338.46H61.10M63.40 340.85H59.00M63.40 343.24H61.10M63.40 345.63H61.10M63.40 348.02H61.10M63.40 350.40H61.10M63.40 352.79H59.00M63.40 355.18H61.10M63.40 357.57H61.10M63.40 359.96H61.10M63.40 362.35H61.10M63.40 364.74H59.00M63.40 367.13H61.10M63.40 369.51H61.10M63.40 371.90H61.10M63.40 374.29H61.10M63.40 376.68H59.00M63.40 379.07H61.10M63.40 381.46H61.10M63.40 383.85H61.10M63.40 386.24H61.10M63.40 388.62H59.00M63.40 391.01H61.10M63.40 393.40H61.10M63.40 395.79H61.10M63.40 398.18H61.10M63.40 400.57H59.00M63.40 402.96H61.10M63.40 405.35H61.10M63.40 407.74H61.10M63.40 410.12H61.10M63.40 412.51H59.00M63.40 414.90H61.10M63.40 417.29H61.10M63.40 419.68H61.10M63.40 422.07H61.10M63.40 424.46H59.00M63.40 426.84H61.10M63.40 429.23H61.10M63.40 431.62H61.10M63.40 434.01H61.10M63.40 436.40H59.00M63.40 436.40V440.80M70.90 436.40V438.70M78.40 436.40V438.70M85.89 436.40V438.70M93.39 436.40V438.70M100.89 436.40V440.80M108.39 436.40V438.70M115.89 436.40V438.70M123.38 436.40V438.70M130.88 436.40V438.70M138.38 436.40V440.80M145.88 436.40V438.70M153.38 436.40V438.70M160.87 436.40V438.70M168.37 436.40V438.70M175.87 436.40V440.80M183.37 436.40V438.70M190.87 436.40V438.70M198.36 436.40V438.70M205.86 436.40V438.70M213.36 436.40V440.80M220.86 436.40V438.70M228.36 436.40V438.70M235.85 436.40V438.70M243.35 436.40V438.70M250.85 436.40V440.80M258.35 436.40V438.70M265.85 436.40V438.70M273.34 436.40V438.70M280.84 436.40V438.70M288.34 436.40V440.80M295.84 436.40V438.70M303.34 436.40V438.70M310.83 436.40V438.70M318.33 436.40V438.70M325.83 436.40V440.80M333.33 436.40V438.70M340.83 436.40V438.70M348.32 436.40V438.70M355.82 436.40V438.70M363.32 436.40V440.80M370.82 436.40V438.70M378.32 436.40V438.70M385.81 436.40V438.70M393.31 436.40V438.70M400.81 436.40V440.80M408.31 436.40V438.70M415.81 436.40V438.70M423.30 436.40V438.70M430.80 436.40V438.70M438.30 436.40V440.80" stroke="#333333" stroke-width="1.1" fill="none"/>
<text x="251.00" y="464.30" class="at" text-anchor="middle">Time(year)</text>
<text x="0" y="0" class="at" text-anchor="middle" transform="translate(33.40 331.30) rotate(-90)">Depth(m)</text>
<text x="430.50" y="428.30" class="pt" text-anchor="end">Centerline</text>
<clipPath id="c5092"><rect x="484.10" y="244.70" width="377.60" height="192.30"/></clipPath>
<line x1="485.70" y1="283.52" x2="859.50" y2="283.52" stroke="#a4a4a4" stroke-width="1" stroke-dasharray="2.3 2.0"/>
<line x1="485.70" y1="321.74" x2="859.50" y2="321.74" stroke="#a4a4a4" stroke-width="1" stroke-dasharray="2.3 2.0"/>
<line x1="485.70" y1="359.96" x2="859.50" y2="359.96" stroke="#a4a4a4" stroke-width="1" stroke-dasharray="2.3 2.0"/>
<line x1="485.70" y1="398.18" x2="859.50" y2="398.18" stroke="#a4a4a4" stroke-width="1" stroke-dasharray="2.3 2.0"/>
<rect x="484.70" y="245.30" width="375.80" height="191.10" fill="none" stroke="#333333" stroke-width="1.25"/>
<g clip-path="url(#c5092)" fill="none" stroke-width="2.40" stroke-linejoin="round" stroke-linecap="round">
<path stroke="#7B5299" d="M484.70 359.96L486.20 357.70L488.08 352.96L490.34 358.99L495.60 349.55L497.85 356.57L503.11 347.68L505.37 355.02L510.63 347.14L512.88 354.71L518.15 346.61L520.40 353.90L525.66 345.24L527.92 352.44L533.18 343.82L535.43 351.01L540.69 342.06L542.95 349.05L548.21 339.90L550.47 346.55L553.10 342.17L555.73 338.27L557.98 343.86L563.24 336.58L565.50 340.92L570.76 334.41L573.01 337.69L575.64 334.74L578.27 332.17L580.53 334.41L583.16 332.06L585.79 330.11L588.04 331.26L593.31 327.89L595.56 328.04L598.19 326.61L600.82 325.47L603.08 324.91L623.82 317.64L645.47 310.68L665.61 302.86L678.16 299.18L689.89 296.47L696.65 295.31L710.41 293.39L717.09 292.67L724.39 292.16L798.94 288.69L860.50 286.20"/>
<path stroke="#F8801E" d="M484.70 363.02L488.08 360.88L489.13 360.79L490.34 360.99L495.60 357.51L497.85 358.32L503.11 355.97L505.37 357.31L510.63 355.39L512.88 356.72L518.15 354.74L520.40 356.06L525.66 354.00L527.92 355.28L533.18 352.88L535.43 353.89L540.69 350.97L542.95 351.89L548.21 349.08L550.47 350.07L555.73 347.21L557.98 348.12L563.24 344.93L565.50 345.60L570.76 342.35L573.01 342.72L578.27 339.87L580.53 339.87L584.59 338.32L588.04 337.58L599.02 334.10L612.25 329.48L664.71 310.26L680.87 305.02L685.75 303.68L690.04 302.74L700.48 301.22L715.97 298.23L728.59 297.17L789.25 294.27L829.31 293.05L860.50 292.50"/>
<path stroke="#FDB638" d="M484.70 332.25L486.20 324.32L486.73 323.27L486.95 324.25L487.48 336.82L487.86 359.96L488.68 352.18L491.69 331.36L493.12 325.23L493.79 323.89L494.25 323.65L494.32 323.91L494.62 330.00L494.92 344.28L495.37 387.48L496.42 366.39L498.45 341.63L499.36 333.81L500.18 328.60L501.01 325.48L501.39 324.80L501.76 324.61L502.06 329.74L502.36 344.98L502.89 403.15L503.94 375.55L505.74 347.67L506.65 338.00L507.55 331.08L508.45 326.98L508.90 326.01L509.28 325.75L509.58 331.06L509.88 346.83L510.40 406.78L511.38 379.12L513.19 349.19L514.01 339.67L514.91 332.10L515.74 327.74L516.19 326.40L516.64 325.79L516.79 325.75L516.87 326.08L517.02 328.65L517.32 341.38L517.92 403.72L518.90 376.78L520.70 347.87L521.53 338.75L522.43 331.50L523.33 327.05L523.78 325.87L524.23 325.39L524.46 326.57L524.61 330.17L524.91 344.40L525.44 398.18L526.41 372.72L528.22 345.52L529.04 337.01L529.95 330.28L530.85 326.17L531.30 325.08L531.75 324.62L531.98 325.69L532.13 328.93L532.43 341.76L532.95 390.15L533.93 367.08L535.66 343.39L536.49 335.57L537.39 329.35L538.29 325.47L538.74 324.40L539.19 323.89L539.34 323.84L539.42 324.08L539.57 326.02L539.87 335.60L540.47 382.32L541.45 361.60L543.17 340.38L544.00 333.43L544.90 327.93L545.81 324.52L546.26 323.58L546.71 323.12L546.86 323.08L546.93 323.28L547.08 324.95L547.38 333.20L547.98 373.34L548.96 355.35L550.69 336.99L551.52 330.97L552.42 326.20L553.32 323.23L553.77 322.39L554.22 321.98L554.45 322.10L554.60 323.50L554.90 330.48L555.50 364.36L556.48 348.96L558.21 333.26L559.03 328.17L559.94 324.16L560.84 321.69L561.74 320.64L561.96 320.74L562.11 321.87L562.42 327.45L563.02 354.42L563.99 341.96L565.65 329.86L566.47 325.78L567.38 322.58L568.28 320.59L569.18 319.72L569.41 319.66L569.56 320.08L569.93 324.76L570.53 344.67L571.51 335.26L573.16 326.27L573.99 323.29L574.89 320.98L575.79 319.57L576.70 318.93L576.92 318.88L577.07 319.15L577.45 322.20L578.05 334.93L579.10 327.86L579.93 324.30L580.75 321.67L581.66 319.71L583.08 318.98L584.51 317.82L585.41 317.80L585.64 317.98L587.59 321.05L588.50 321.71L588.95 321.56L589.40 321.08L591.43 317.11L591.95 316.43L592.40 316.18L592.86 316.26L593.31 316.66L595.11 319.54L595.94 320.19L596.39 320.09L596.91 319.57L598.94 315.62L599.47 314.92L599.92 314.65L600.37 314.71L600.90 315.14L602.85 317.97L603.30 318.25L603.68 318.25L604.51 317.47L606.46 313.52L607.36 312.51L607.81 312.47L608.26 312.73L610.22 315.36L610.67 315.69L611.12 315.74L612.02 314.91L613.90 311.07L614.73 310.01L615.18 309.85L615.70 310.05L617.73 312.64L618.26 313.00L618.71 312.99L619.69 311.95L621.64 308.08L622.47 307.30L623.30 307.54L625.17 310.00L626.08 310.48L626.98 309.79L629.01 305.93L629.98 304.95L630.44 304.96L630.89 305.25L632.69 307.60L633.52 308.06L633.97 307.92L634.49 307.38L636.52 303.61L637.50 302.65L637.95 302.66L638.48 303.00L640.43 305.36L641.26 305.55L642.09 304.80L643.96 301.32L644.87 300.31L645.32 300.21L645.77 300.37L647.80 302.58L648.32 302.86L648.77 302.82L649.60 302.05L651.48 298.62L652.38 297.60L652.83 297.47L653.28 297.59L655.31 299.55L656.22 299.75L657.12 298.96L659.00 295.67L659.82 294.74L660.27 294.57L660.80 294.68L662.83 296.48L663.36 296.70L663.81 296.64L664.78 295.74L666.66 292.73L667.56 292.00L668.39 292.12L670.27 293.77L671.25 294.02L672.07 293.46L674.03 290.68L675.01 289.88L675.91 289.97L677.79 291.48L678.76 291.71L679.67 291.13L681.54 288.69L682.45 287.99L683.35 288.01L685.30 289.36L686.28 289.53L687.18 288.99L688.98 286.91L689.81 286.27L690.79 286.18L692.82 287.20L693.72 287.28L694.70 286.75L696.73 284.82L697.63 284.43L698.38 284.48L700.18 285.25L701.16 285.39L704.77 283.98L708.23 284.20L723.63 282.68L735.21 281.29L757.68 277.82L780.83 273.38L801.65 268.76L822.39 263.47L840.96 258.12L860.50 251.80"/>
</g>
<line x1="499.60" y1="260.50" x2="513.60" y2="260.50" stroke="#FDB638" stroke-width="2.2"/>
<text x="524.30" y="263.70" class="lg">-4m</text>
<line x1="499.60" y1="273.00" x2="513.60" y2="273.00" stroke="#7B5299" stroke-width="2.2"/>
<text x="524.30" y="276.20" class="lg">-8m</text>
<line x1="499.60" y1="285.50" x2="513.60" y2="285.50" stroke="#F8801E" stroke-width="2.2"/>
<text x="524.30" y="288.70" class="lg">-12m</text>
<text x="476.90" y="248.50" class="tl" text-anchor="end">-0.2</text>
<text x="476.90" y="267.61" class="tl" text-anchor="end">-0.3</text>
<text x="476.90" y="286.72" class="tl" text-anchor="end">-0.4</text>
<text x="476.90" y="305.83" class="tl" text-anchor="end">-0.5</text>
<text x="476.90" y="324.94" class="tl" text-anchor="end">-0.6</text>
<text x="476.90" y="344.05" class="tl" text-anchor="end">-0.7</text>
<text x="476.90" y="363.16" class="tl" text-anchor="end">-0.8</text>
<text x="476.90" y="382.27" class="tl" text-anchor="end">-0.9</text>
<text x="476.90" y="401.38" class="tl" text-anchor="end">-1.0</text>
<text x="476.90" y="420.49" class="tl" text-anchor="end">-1.1</text>
<text x="476.90" y="439.60" class="tl" text-anchor="end">-1.2</text>
<text x="484.70" y="451.20" class="tl" text-anchor="middle">0</text>
<text x="522.28" y="451.20" class="tl" text-anchor="middle">5</text>
<text x="559.86" y="451.20" class="tl" text-anchor="middle">10</text>
<text x="597.44" y="451.20" class="tl" text-anchor="middle">15</text>
<text x="635.02" y="451.20" class="tl" text-anchor="middle">20</text>
<text x="672.60" y="451.20" class="tl" text-anchor="middle">25</text>
<text x="710.18" y="451.20" class="tl" text-anchor="middle">30</text>
<text x="747.76" y="451.20" class="tl" text-anchor="middle">35</text>
<text x="785.34" y="451.20" class="tl" text-anchor="middle">40</text>
<text x="822.92" y="451.20" class="tl" text-anchor="middle">45</text>
<text x="860.50" y="451.20" class="tl" text-anchor="middle">50</text>
<path d="M484.70 245.30H480.30M484.70 249.12H482.40M484.70 252.94H482.40M484.70 256.77H482.40M484.70 260.59H482.40M484.70 264.41H480.30M484.70 268.23H482.40M484.70 272.05H482.40M484.70 275.88H482.40M484.70 279.70H482.40M484.70 283.52H480.30M484.70 287.34H482.40M484.70 291.16H482.40M484.70 294.99H482.40M484.70 298.81H482.40M484.70 302.63H480.30M484.70 306.45H482.40M484.70 310.27H482.40M484.70 314.10H482.40M484.70 317.92H482.40M484.70 321.74H480.30M484.70 325.56H482.40M484.70 329.38H482.40M484.70 333.21H482.40M484.70 337.03H482.40M484.70 340.85H480.30M484.70 344.67H482.40M484.70 348.49H482.40M484.70 352.32H482.40M484.70 356.14H482.40M484.70 359.96H480.30M484.70 363.78H482.40M484.70 367.60H482.40M484.70 371.43H482.40M484.70 375.25H482.40M484.70 379.07H480.30M484.70 382.89H482.40M484.70 386.71H482.40M484.70 390.54H482.40M484.70 394.36H482.40M484.70 398.18H480.30M484.70 402.00H482.40M484.70 405.82H482.40M484.70 409.65H482.40M484.70 413.47H482.40M484.70 417.29H480.30M484.70 421.11H482.40M484.70 424.93H482.40M484.70 428.76H482.40M484.70 432.58H482.40M484.70 436.40H480.30M484.70 436.40V440.80M492.22 436.40V438.70M499.73 436.40V438.70M507.25 436.40V438.70M514.76 436.40V438.70M522.28 436.40V440.80M529.80 436.40V438.70M537.31 436.40V438.70M544.83 436.40V438.70M552.34 436.40V438.70M559.86 436.40V440.80M567.38 436.40V438.70M574.89 436.40V438.70M582.41 436.40V438.70M589.92 436.40V438.70M597.44 436.40V440.80M604.96 436.40V438.70M612.47 436.40V438.70M619.99 436.40V438.70M627.50 436.40V438.70M635.02 436.40V440.80M642.54 436.40V438.70M650.05 436.40V438.70M657.57 436.40V438.70M665.08 436.40V438.70M672.60 436.40V440.80M680.12 436.40V438.70M687.63 436.40V438.70M695.15 436.40V438.70M702.66 436.40V438.70M710.18 436.40V440.80M717.70 436.40V438.70M725.21 436.40V438.70M732.73 436.40V438.70M740.24 436.40V438.70M747.76 436.40V440.80M755.28 436.40V438.70M762.79 436.40V438.70M770.31 436.40V438.70M777.82 436.40V438.70M785.34 436.40V440.80M792.86 436.40V438.70M800.37 436.40V438.70M807.89 436.40V438.70M815.40 436.40V438.70M822.92 436.40V440.80M830.44 436.40V438.70M837.95 436.40V438.70M845.47 436.40V438.70M852.98 436.40V438.70M860.50 436.40V440.80" stroke="#333333" stroke-width="1.1" fill="none"/>
<text x="675.00" y="464.50" class="at" text-anchor="middle">Time(year)</text>
<text x="0" y="0" class="at" text-anchor="middle" transform="translate(456.10 334.10) rotate(-90)">Depth(m)</text>
<text x="858.10" y="428.50" class="pt" text-anchor="end">Right shoulders</text>
<clipPath id="c1113"><rect x="63.80" y="468.70" width="376.80" height="192.30"/></clipPath>
<line x1="65.40" y1="493.19" x2="438.40" y2="493.19" stroke="#a4a4a4" stroke-width="1" stroke-dasharray="2.3 2.0"/>
<line x1="65.40" y1="517.08" x2="438.40" y2="517.08" stroke="#a4a4a4" stroke-width="1" stroke-dasharray="2.3 2.0"/>
<line x1="65.40" y1="540.96" x2="438.40" y2="540.96" stroke="#a4a4a4" stroke-width="1" stroke-dasharray="2.3 2.0"/>
<line x1="65.40" y1="564.85" x2="438.40" y2="564.85" stroke="#a4a4a4" stroke-width="1" stroke-dasharray="2.3 2.0"/>
<line x1="65.40" y1="588.74" x2="438.40" y2="588.74" stroke="#a4a4a4" stroke-width="1" stroke-dasharray="2.3 2.0"/>
<line x1="65.40" y1="612.62" x2="438.40" y2="612.62" stroke="#a4a4a4" stroke-width="1" stroke-dasharray="2.3 2.0"/>
<line x1="65.40" y1="636.51" x2="438.40" y2="636.51" stroke="#a4a4a4" stroke-width="1" stroke-dasharray="2.3 2.0"/>
<rect x="64.40" y="469.30" width="375.00" height="191.10" fill="none" stroke="#333333" stroke-width="1.25"/>
<g clip-path="url(#c1113)" fill="none" stroke-width="2.40" stroke-linejoin="round" stroke-linecap="round">
<path stroke="#7B5299" d="M64.40 590.77L66.73 588.76L68.83 587.29L71.98 585.66L74.30 584.81L79.55 583.99L90.20 584.05L91.03 583.77L92.00 584.02L92.98 584.70L96.65 588.94L98.53 586.04L104.15 590.48L106.03 587.15L111.65 591.26L113.53 587.80L119.15 591.46L121.03 587.87L126.65 591.17L128.53 587.52L134.15 590.61L136.03 586.95L141.65 589.67L143.53 585.85L149.15 588.21L151.03 584.42L156.65 586.74L158.53 582.96L164.15 585.12L166.03 581.37L171.65 583.42L173.53 579.71L179.15 581.68L181.03 578.02L186.65 579.93L188.53 576.35L194.15 578.23L196.03 574.74L201.65 576.63L203.53 573.25L209.15 575.13L211.03 571.85L216.65 573.68L218.53 570.53L224.15 572.19L226.03 569.32L231.65 570.64L233.53 568.20L239.15 569.03L241.03 567.11L246.65 567.35L248.53 566.03L251.38 565.94L254.15 565.60L256.02 564.87L272.08 561.51L279.27 560.29L302.45 557.72L331.25 555.39L391.70 551.33L439.40 548.85"/>
<path stroke="#F8801E" d="M64.40 572.14L65.53 565.05L67.18 561.86L68.15 560.74L69.12 560.15L73.18 559.71L74.30 560.05L76.78 561.78L81.58 564.10L82.33 564.75L83.15 572.97L89.00 572.14L89.23 574.37L89.45 582.16L90.05 618.60L93.50 583.33L94.55 577.16L95.08 575.80L95.38 575.57L95.53 575.69L95.98 580.13L96.43 590.66L97.55 635.32L99.43 605.68L100.70 589.33L101.90 579.57L102.50 577.28L102.80 576.83L103.03 576.89L103.48 581.68L103.93 593.09L105.05 640.93L106.85 609.25L108.12 591.44L109.33 580.78L109.93 578.13L110.23 577.53L110.53 577.49L110.98 582.30L111.43 593.79L112.55 641.89L114.28 610.79L115.55 592.38L116.75 581.24L117.35 578.36L117.88 577.41L118.10 577.79L118.33 579.86L118.85 591.14L120.05 640.10L121.78 609.47L123.05 591.45L124.25 580.55L124.85 577.74L125.38 576.81L125.60 577.18L125.83 579.18L126.35 590.04L127.55 637.11L129.28 607.87L130.55 590.74L131.75 580.37L132.35 577.69L132.88 576.81L133.10 577.16L133.32 579.10L133.85 589.63L135.05 635.32L136.78 606.71L138.05 589.91L139.25 579.75L139.85 577.12L140.38 576.22L140.60 576.55L140.82 578.38L141.35 588.39L142.55 631.74L144.20 605.60L145.48 589.42L146.68 579.44L147.28 576.75L147.88 575.67L148.10 575.98L148.32 577.74L148.85 587.32L150.05 628.87L151.70 603.83L152.98 588.31L154.18 578.74L154.78 576.15L155.38 575.12L155.60 575.41L155.82 577.08L156.35 586.23L157.55 625.84L159.20 601.80L160.48 586.97L161.68 577.89L162.28 575.45L162.88 574.47L163.10 574.74L163.32 576.29L163.85 584.76L165.05 621.15L166.70 598.81L167.98 585.20L169.18 576.91L169.78 574.68L170.38 573.79L170.60 574.04L170.82 575.44L171.35 583.14L172.55 616.32L174.20 596.09L175.48 583.65L176.68 576.03L177.28 573.97L177.88 573.14L178.10 573.37L178.32 574.68L178.85 581.87L180.05 613.01L181.70 594.11L182.98 582.44L184.18 575.26L184.78 573.31L185.38 572.53L185.60 572.75L185.83 573.99L186.35 580.78L187.55 610.19L189.20 592.33L190.47 581.29L191.68 574.51L192.28 572.68L192.88 571.94L193.10 572.14L193.33 573.31L193.85 579.68L195.05 607.18L196.70 590.36L197.97 580.04L199.18 573.74L199.78 572.03L200.38 571.35L200.60 571.53L200.83 572.60L201.35 578.45L202.55 603.59L204.20 588.11L205.47 578.68L206.68 572.95L207.28 571.41L207.88 570.79L208.10 570.95L208.33 571.91L208.85 577.17L210.05 599.69L211.70 585.73L212.97 577.27L214.18 572.15L214.78 570.77L215.38 570.21L215.60 570.35L215.83 571.20L216.35 575.83L217.55 595.65L219.20 583.28L220.47 575.80L221.68 571.27L222.28 570.04L222.88 569.53L223.10 569.65L223.33 570.38L223.85 574.41L225.05 591.68L226.70 580.77L227.97 574.16L229.25 569.94L229.85 568.91L230.45 568.51L230.90 569.57L231.35 572.74L232.55 587.78L234.20 578.15L235.47 572.34L236.75 568.65L237.35 567.75L237.95 567.40L238.40 568.32L238.85 571.04L240.05 583.87L241.62 575.94L242.90 570.93L244.18 567.76L244.78 566.99L245.38 566.67L245.60 566.75L245.83 567.20L246.28 569.22L247.55 580.08L249.05 573.92L250.33 569.88L251.60 567.33L252.20 566.70L252.80 566.43L253.25 566.68L253.78 568.36L255.05 576.40L256.48 571.94L257.75 568.89L258.95 567.06L259.55 566.55L260.23 566.28L260.75 566.43L261.20 567.34L262.55 572.82L263.98 569.74L265.25 567.71L266.52 566.48L267.80 566.00L268.25 566.07L268.70 566.55L270.05 569.41L271.40 567.62L272.68 566.39L273.95 565.60L275.38 565.21L276.12 565.36L277.55 566.35L279.05 565.17L279.95 564.85L302.98 564.38L319.25 563.21L392.83 554.96L439.40 549.20"/>
<path stroke="#FDB638" d="M64.40 587.90L67.10 581.61L68.15 579.86L69.12 578.79L71.45 577.58L73.62 576.91L75.65 576.81L78.28 577.11L80.98 577.75L82.25 578.57L82.85 579.35L83.53 582.29L85.03 582.08L88.78 581.01L89.30 580.99L89.68 581.22L90.20 582.36L90.65 584.25L92.15 593.51L94.62 589.71L96.50 585.99L99.65 598.17L104.00 586.95L107.15 598.73L111.50 587.27L114.65 599.01L119.00 587.47L122.15 599.32L126.50 587.54L129.65 599.49L134.00 587.20L137.15 598.03L141.50 586.38L144.65 594.98L146.75 590.05L149.00 585.41L152.15 592.32L156.50 584.30L159.65 590.71L164.00 582.92L167.15 589.35L171.50 581.42L174.65 587.99L179.00 579.98L182.15 586.47L186.50 578.56L189.65 584.92L194.00 577.11L197.15 583.30L201.50 575.63L204.65 581.57L209.00 574.09L212.15 579.66L216.50 572.51L219.65 577.61L224.00 571.00L227.15 575.60L231.50 569.52L234.65 573.67L239.00 568.07L242.15 571.78L246.50 566.70L249.65 569.91L254.00 565.48L257.15 568.07L261.50 564.35L264.65 566.29L269.00 563.32L272.15 564.46L274.33 563.24L276.50 562.38L279.65 562.52L284.00 561.56L287.15 561.43L291.50 560.80L302.15 559.70L306.50 559.42L309.65 559.00L314.00 558.79L317.15 558.38L321.50 558.18L399.65 551.83L439.40 548.85"/>
</g>
<line x1="79.30" y1="477.00" x2="93.30" y2="477.00" stroke="#FDB638" stroke-width="2.2"/>
<text x="104.30" y="480.20" class="lg">-4m</text>
<line x1="79.30" y1="489.50" x2="93.30" y2="489.50" stroke="#7B5299" stroke-width="2.2"/>
<text x="104.30" y="492.70" class="lg">-8m</text>
<line x1="79.30" y1="502.00" x2="93.30" y2="502.00" stroke="#F8801E" stroke-width="2.2"/>
<text x="104.30" y="505.20" class="lg">-12m</text>
<text x="56.60" y="472.50" class="tl" text-anchor="end">0.2</text>
<text x="56.60" y="484.44" class="tl" text-anchor="end">0.1</text>
<text x="56.60" y="496.39" class="tl" text-anchor="end">0.0</text>
<text x="56.60" y="508.33" class="tl" text-anchor="end">-0.1</text>
<text x="56.60" y="520.28" class="tl" text-anchor="end">-0.2</text>
<text x="56.60" y="532.22" class="tl" text-anchor="end">-0.3</text>
<text x="56.60" y="544.16" class="tl" text-anchor="end">-0.4</text>
<text x="56.60" y="556.11" class="tl" text-anchor="end">-0.5</text>
<text x="56.60" y="568.05" class="tl" text-anchor="end">-0.6</text>
<text x="56.60" y="579.99" class="tl" text-anchor="end">-0.7</text>
<text x="56.60" y="591.94" class="tl" text-anchor="end">-0.8</text>
<text x="56.60" y="603.88" class="tl" text-anchor="end">-0.9</text>
<text x="56.60" y="615.83" class="tl" text-anchor="end">-1.0</text>
<text x="56.60" y="627.77" class="tl" text-anchor="end">-1.1</text>
<text x="56.60" y="639.71" class="tl" text-anchor="end">-1.2</text>
<text x="56.60" y="651.66" class="tl" text-anchor="end">-1.3</text>
<text x="56.60" y="663.60" class="tl" text-anchor="end">-1.4</text>
<text x="64.40" y="676.00" class="tl" text-anchor="middle">0</text>
<text x="101.90" y="676.00" class="tl" text-anchor="middle">5</text>
<text x="139.40" y="676.00" class="tl" text-anchor="middle">10</text>
<text x="176.90" y="676.00" class="tl" text-anchor="middle">15</text>
<text x="214.40" y="676.00" class="tl" text-anchor="middle">20</text>
<text x="251.90" y="676.00" class="tl" text-anchor="middle">25</text>
<text x="289.40" y="676.00" class="tl" text-anchor="middle">30</text>
<text x="326.90" y="676.00" class="tl" text-anchor="middle">35</text>
<text x="364.40" y="676.00" class="tl" text-anchor="middle">40</text>
<text x="401.90" y="676.00" class="tl" text-anchor="middle">45</text>
<text x="439.40" y="676.00" class="tl" text-anchor="middle">50</text>
<path d="M64.40 469.30H60.00M64.40 471.69H62.10M64.40 474.08H62.10M64.40 476.47H62.10M64.40 478.86H62.10M64.40 481.24H60.00M64.40 483.63H62.10M64.40 486.02H62.10M64.40 488.41H62.10M64.40 490.80H62.10M64.40 493.19H60.00M64.40 495.58H62.10M64.40 497.97H62.10M64.40 500.35H62.10M64.40 502.74H62.10M64.40 505.13H60.00M64.40 507.52H62.10M64.40 509.91H62.10M64.40 512.30H62.10M64.40 514.69H62.10M64.40 517.08H60.00M64.40 519.46H62.10M64.40 521.85H62.10M64.40 524.24H62.10M64.40 526.63H62.10M64.40 529.02H60.00M64.40 531.41H62.10M64.40 533.80H62.10M64.40 536.19H62.10M64.40 538.57H62.10M64.40 540.96H60.00M64.40 543.35H62.10M64.40 545.74H62.10M64.40 548.13H62.10M64.40 550.52H62.10M64.40 552.91H60.00M64.40 555.30H62.10M64.40 557.68H62.10M64.40 560.07H62.10M64.40 562.46H62.10M64.40 564.85H60.00M64.40 567.24H62.10M64.40 569.63H62.10M64.40 572.02H62.10M64.40 574.40H62.10M64.40 576.79H60.00M64.40 579.18H62.10M64.40 581.57H62.10M64.40 583.96H62.10M64.40 586.35H62.10M64.40 588.74H60.00M64.40 591.13H62.10M64.40 593.51H62.10M64.40 595.90H62.10M64.40 598.29H62.10M64.40 600.68H60.00M64.40 603.07H62.10M64.40 605.46H62.10M64.40 607.85H62.10M64.40 610.24H62.10M64.40 612.62H60.00M64.40 615.01H62.10M64.40 617.40H62.10M64.40 619.79H62.10M64.40 622.18H62.10M64.40 624.57H60.00M64.40 626.96H62.10M64.40 629.35H62.10M64.40 631.74H62.10M64.40 634.12H62.10M64.40 636.51H60.00M64.40 638.90H62.10M64.40 641.29H62.10M64.40 643.68H62.10M64.40 646.07H62.10M64.40 648.46H60.00M64.40 650.85H62.10M64.40 653.23H62.10M64.40 655.62H62.10M64.40 658.01H62.10M64.40 660.40H60.00M64.40 660.40V664.80M71.90 660.40V662.70M79.40 660.40V662.70M86.90 660.40V662.70M94.40 660.40V662.70M101.90 660.40V664.80M109.40 660.40V662.70M116.90 660.40V662.70M124.40 660.40V662.70M131.90 660.40V662.70M139.40 660.40V664.80M146.90 660.40V662.70M154.40 660.40V662.70M161.90 660.40V662.70M169.40 660.40V662.70M176.90 660.40V664.80M184.40 660.40V662.70M191.90 660.40V662.70M199.40 660.40V662.70M206.90 660.40V662.70M214.40 660.40V664.80M221.90 660.40V662.70M229.40 660.40V662.70M236.90 660.40V662.70M244.40 660.40V662.70M251.90 660.40V664.80M259.40 660.40V662.70M266.90 660.40V662.70M274.40 660.40V662.70M281.90 660.40V662.70M289.40 660.40V664.80M296.90 660.40V662.70M304.40 660.40V662.70M311.90 660.40V662.70M319.40 660.40V662.70M326.90 660.40V664.80M334.40 660.40V662.70M341.90 660.40V662.70M349.40 660.40V662.70M356.90 660.40V662.70M364.40 660.40V664.80M371.90 660.40V662.70M379.40 660.40V662.70M386.90 660.40V662.70M394.40 660.40V662.70M401.90 660.40V664.80M409.40 660.40V662.70M416.90 660.40V662.70M424.40 660.40V662.70M431.90 660.40V662.70M439.40 660.40V664.80" stroke="#333333" stroke-width="1.1" fill="none"/>
<text x="252.00" y="690.00" class="at" text-anchor="middle">Time(year)</text>
<text x="0" y="0" class="at" text-anchor="middle" transform="translate(34.40 555.60) rotate(-90)">Depth(m)</text>
<text x="431.60" y="652.60" class="pt" text-anchor="end">Centerline</text>
<clipPath id="c5332"><rect x="485.70" y="468.80" width="377.90" height="192.00"/></clipPath>
<line x1="487.30" y1="493.25" x2="861.40" y2="493.25" stroke="#a4a4a4" stroke-width="1" stroke-dasharray="2.3 2.0"/>
<line x1="487.30" y1="517.10" x2="861.40" y2="517.10" stroke="#a4a4a4" stroke-width="1" stroke-dasharray="2.3 2.0"/>
<line x1="487.30" y1="540.95" x2="861.40" y2="540.95" stroke="#a4a4a4" stroke-width="1" stroke-dasharray="2.3 2.0"/>
<line x1="487.30" y1="564.80" x2="861.40" y2="564.80" stroke="#a4a4a4" stroke-width="1" stroke-dasharray="2.3 2.0"/>
<line x1="487.30" y1="588.65" x2="861.40" y2="588.65" stroke="#a4a4a4" stroke-width="1" stroke-dasharray="2.3 2.0"/>
<line x1="487.30" y1="612.50" x2="861.40" y2="612.50" stroke="#a4a4a4" stroke-width="1" stroke-dasharray="2.3 2.0"/>
<line x1="487.30" y1="636.35" x2="861.40" y2="636.35" stroke="#a4a4a4" stroke-width="1" stroke-dasharray="2.3 2.0"/>
<rect x="486.30" y="469.40" width="376.10" height="190.80" fill="none" stroke="#333333" stroke-width="1.25"/>
<g clip-path="url(#c5332)" fill="none" stroke-width="2.40" stroke-linejoin="round" stroke-linecap="round">
<path stroke="#F8801E" d="M486.30 589.96L489.16 588.33L491.19 587.54L495.93 586.70L500.14 586.30L507.14 586.45L530.23 588.35L536.92 588.65L544.60 588.26L556.41 586.73L561.52 585.76L572.43 583.17L589.35 579.50L595.07 578.59L610.94 576.53L627.26 573.70L636.21 571.68L655.55 566.44L669.54 563.32L700.15 557.39L708.42 556.04L716.17 555.03L753.11 551.56L774.09 550.04L819.45 547.59L843.82 546.85L862.40 546.55"/>
<path stroke="#7B5299" d="M486.30 588.05L487.05 587.66L487.80 586.79L489.31 583.68L489.91 583.91L490.51 584.43L493.07 587.59L496.83 580.42L500.59 585.95L504.35 579.88L508.11 587.09L511.87 581.93L515.64 589.48L519.40 583.61L523.16 590.34L526.92 583.95L530.68 590.66L534.44 584.13L538.20 590.77L541.96 583.96L545.72 590.28L549.48 583.16L553.25 589.32L557.01 582.11L560.77 588.09L564.53 580.61L568.29 586.27L572.05 579.09L575.81 584.29L579.57 577.85L583.33 582.28L587.09 576.66L590.86 580.46L594.62 575.63L598.38 579.06L602.14 574.83L605.90 577.80L609.66 573.95L613.42 576.35L617.18 572.86L620.94 574.70L624.70 571.63L628.47 572.87L632.23 570.28L635.99 570.82L639.75 568.68L643.51 568.52L647.27 566.95L649.75 566.51L661.04 563.74L682.17 559.36L699.17 556.12L708.65 554.56L723.39 552.89L757.84 549.77L769.50 548.88L816.67 546.42L862.40 544.65"/>
<path stroke="#FDB638" d="M486.30 576.73L487.88 568.61L488.48 566.83L489.01 572.74L489.38 585.34L489.91 582.66L493.75 569.77L494.95 567.12L495.55 566.55L495.85 566.50L495.93 566.72L496.45 579.92L496.91 612.30L497.96 597.37L499.99 579.78L500.89 574.28L501.72 570.62L502.55 568.41L503.00 567.85L503.37 567.74L503.68 571.90L503.98 584.23L504.43 623.33L505.48 604.49L507.44 583.77L508.34 577.11L509.17 572.66L510.07 569.73L510.52 569.07L510.90 568.94L511.20 573.66L511.50 587.62L511.95 631.63L513.00 609.82L514.88 587.03L515.79 579.52L516.69 574.16L517.59 571.02L518.04 570.30L518.42 570.14L518.72 575.05L519.02 589.55L519.47 635.12L520.53 612.13L522.41 588.31L523.31 580.54L524.21 575.03L525.11 571.81L525.56 571.08L525.94 570.90L526.24 575.81L526.54 590.32L526.99 635.87L528.05 612.70L529.85 589.40L530.68 582.00L531.58 576.14L532.49 572.56L532.94 571.62L533.39 571.25L533.69 573.86L533.99 585.37L534.52 632.74L535.57 610.49L537.37 588.33L538.20 581.33L539.10 575.77L540.01 572.36L540.46 571.46L540.91 571.09L541.21 573.55L541.51 584.42L542.04 629.16L543.09 608.09L544.90 587.12L545.72 580.49L546.63 575.22L547.53 571.99L547.98 571.14L548.43 570.78L548.73 573.10L549.03 583.35L549.56 625.58L550.61 605.70L552.42 585.88L553.25 579.59L554.15 574.57L555.05 571.47L555.50 570.63L555.95 570.28L556.25 572.47L556.56 582.21L557.08 622.36L558.14 603.36L559.94 584.40L560.77 578.41L561.67 573.65L562.57 570.72L563.02 569.94L563.48 569.60L563.78 571.64L564.08 580.67L564.60 617.82L565.58 601.03L567.39 583.08L568.29 576.99L569.19 572.62L570.10 569.94L570.55 569.23L571.00 568.92L571.30 570.75L571.60 578.92L572.13 612.45L573.10 597.23L574.91 581.00L575.81 575.49L576.71 571.54L577.62 569.12L578.07 568.47L578.52 568.18L578.82 569.83L579.12 577.17L579.65 607.32L580.70 592.79L582.43 578.92L583.33 573.98L584.24 570.45L585.14 568.29L586.04 567.46L586.34 568.90L586.64 575.34L587.17 601.71L588.22 588.89L589.95 576.70L590.78 572.71L591.68 569.55L592.59 567.60L593.49 566.78L593.71 566.89L593.86 567.99L594.17 573.44L594.69 595.75L595.75 584.87L597.48 574.55L598.30 571.17L599.21 568.48L600.11 566.81L601.01 566.10L601.24 566.19L601.39 567.13L601.69 571.81L602.21 590.99L603.27 581.67L605.00 572.80L605.82 569.87L606.73 567.53L607.63 566.06L608.53 565.44L608.76 565.51L608.91 566.34L609.21 570.43L609.74 587.18L610.79 578.97L612.52 571.16L613.35 568.61L614.25 566.59L615.15 565.33L616.05 564.80L616.28 564.86L616.43 565.54L616.73 568.91L617.26 582.64L618.24 576.14L619.97 569.54L620.79 567.41L621.70 565.73L622.60 564.67L623.50 564.20L623.73 564.16L623.88 564.42L624.18 566.50L624.78 577.87L625.76 572.84L627.49 567.77L629.22 564.83L630.12 563.99L631.10 563.57L631.40 563.74L631.70 565.26L632.30 572.89L632.83 570.31L633.58 568.48L634.18 567.85L635.46 567.34L636.06 566.87L638.24 563.32L639.00 562.54L640.35 562.92L642.08 565.04L642.61 565.38L643.06 565.41L643.89 564.86L645.84 562.04L646.74 561.32L647.65 561.46L649.68 563.42L650.66 563.69L651.48 563.15L653.36 560.63L654.34 559.89L655.24 560.04L657.20 561.77L658.18 562.02L659.16 561.35L661.19 558.73L662.16 558.26L662.99 558.60L664.80 560.27L665.70 560.49L666.68 559.83L668.71 557.19L669.61 556.74L670.51 557.11L672.32 558.80L673.22 559.03L674.20 558.37L676.16 555.87L676.98 555.38L677.81 555.57L679.77 557.32L680.67 557.60L681.57 557.11L683.53 554.68L684.50 554.07L685.48 554.34L687.44 556.03L688.27 556.20L689.09 555.73L691.05 553.40L691.95 552.83L692.85 552.99L694.81 554.61L695.79 554.86L696.62 554.42L698.57 552.21L699.47 551.67L700.38 551.82L702.33 553.36L703.31 553.60L704.14 553.18L706.09 551.08L707.00 550.57L707.90 550.72L709.85 552.17L710.83 552.40L711.66 551.99L713.54 550.04L714.44 549.50L715.34 549.57L717.38 550.97L718.35 551.17L719.18 550.77L721.06 548.90L721.96 548.37L722.87 548.44L724.82 549.65L725.80 549.85L726.70 549.45L728.51 547.79L729.34 547.29L730.31 547.26L732.34 548.31L733.32 548.46L734.30 548.04L736.33 546.42L737.16 546.11L737.99 546.18L739.87 547.01L740.84 547.13L741.75 546.80L743.63 545.45L744.53 545.06L745.43 545.06L747.39 545.76L748.37 545.84L749.27 545.54L751.90 544.04L752.88 543.98L754.84 544.48L755.81 544.52L759.72 543.00L762.96 543.07L767.25 542.10L826.37 535.31L862.40 531.53"/>
</g>
<line x1="496.60" y1="477.10" x2="510.60" y2="477.10" stroke="#FDB638" stroke-width="2.2"/>
<text x="521.00" y="480.30" class="lg">-4m</text>
<line x1="496.60" y1="489.60" x2="510.60" y2="489.60" stroke="#7B5299" stroke-width="2.2"/>
<text x="521.00" y="492.80" class="lg">-8m</text>
<line x1="496.60" y1="502.10" x2="510.60" y2="502.10" stroke="#F8801E" stroke-width="2.2"/>
<text x="521.00" y="505.30" class="lg">-12m</text>
<text x="478.50" y="472.60" class="tl" text-anchor="end">0.2</text>
<text x="478.50" y="484.52" class="tl" text-anchor="end">0.1</text>
<text x="478.50" y="496.45" class="tl" text-anchor="end">0.0</text>
<text x="478.50" y="508.38" class="tl" text-anchor="end">-0.1</text>
<text x="478.50" y="520.30" class="tl" text-anchor="end">-0.2</text>
<text x="478.50" y="532.23" class="tl" text-anchor="end">-0.3</text>
<text x="478.50" y="544.15" class="tl" text-anchor="end">-0.4</text>
<text x="478.50" y="556.08" class="tl" text-anchor="end">-0.5</text>
<text x="478.50" y="568.00" class="tl" text-anchor="end">-0.6</text>
<text x="478.50" y="579.93" class="tl" text-anchor="end">-0.7</text>
<text x="478.50" y="591.85" class="tl" text-anchor="end">-0.8</text>
<text x="478.50" y="603.78" class="tl" text-anchor="end">-0.9</text>
<text x="478.50" y="615.70" class="tl" text-anchor="end">-1.0</text>
<text x="478.50" y="627.63" class="tl" text-anchor="end">-1.1</text>
<text x="478.50" y="639.55" class="tl" text-anchor="end">-1.2</text>
<text x="478.50" y="651.48" class="tl" text-anchor="end">-1.3</text>
<text x="478.50" y="663.40" class="tl" text-anchor="end">-1.4</text>
<text x="486.30" y="675.80" class="tl" text-anchor="middle">0</text>
<text x="523.91" y="675.80" class="tl" text-anchor="middle">5</text>
<text x="561.52" y="675.80" class="tl" text-anchor="middle">10</text>
<text x="599.13" y="675.80" class="tl" text-anchor="middle">15</text>
<text x="636.74" y="675.80" class="tl" text-anchor="middle">20</text>
<text x="674.35" y="675.80" class="tl" text-anchor="middle">25</text>
<text x="711.96" y="675.80" class="tl" text-anchor="middle">30</text>
<text x="749.57" y="675.80" class="tl" text-anchor="middle">35</text>
<text x="787.18" y="675.80" class="tl" text-anchor="middle">40</text>
<text x="824.79" y="675.80" class="tl" text-anchor="middle">45</text>
<text x="862.40" y="675.80" class="tl" text-anchor="middle">50</text>
<path d="M486.30 469.40H481.90M486.30 471.78H484.00M486.30 474.17H484.00M486.30 476.56H484.00M486.30 478.94H484.00M486.30 481.32H481.90M486.30 483.71H484.00M486.30 486.09H484.00M486.30 488.48H484.00M486.30 490.87H484.00M486.30 493.25H481.90M486.30 495.63H484.00M486.30 498.02H484.00M486.30 500.40H484.00M486.30 502.79H484.00M486.30 505.18H481.90M486.30 507.56H484.00M486.30 509.94H484.00M486.30 512.33H484.00M486.30 514.72H484.00M486.30 517.10H481.90M486.30 519.49H484.00M486.30 521.87H484.00M486.30 524.25H484.00M486.30 526.64H484.00M486.30 529.02H481.90M486.30 531.41H484.00M486.30 533.79H484.00M486.30 536.18H484.00M486.30 538.57H484.00M486.30 540.95H481.90M486.30 543.34H484.00M486.30 545.72H484.00M486.30 548.11H484.00M486.30 550.49H484.00M486.30 552.88H481.90M486.30 555.26H484.00M486.30 557.64H484.00M486.30 560.03H484.00M486.30 562.42H484.00M486.30 564.80H481.90M486.30 567.19H484.00M486.30 569.57H484.00M486.30 571.96H484.00M486.30 574.34H484.00M486.30 576.73H481.90M486.30 579.11H484.00M486.30 581.50H484.00M486.30 583.88H484.00M486.30 586.26H484.00M486.30 588.65H481.90M486.30 591.04H484.00M486.30 593.42H484.00M486.30 595.81H484.00M486.30 598.19H484.00M486.30 600.58H481.90M486.30 602.96H484.00M486.30 605.35H484.00M486.30 607.73H484.00M486.30 610.12H484.00M486.30 612.50H481.90M486.30 614.88H484.00M486.30 617.27H484.00M486.30 619.66H484.00M486.30 622.04H484.00M486.30 624.43H481.90M486.30 626.81H484.00M486.30 629.20H484.00M486.30 631.58H484.00M486.30 633.97H484.00M486.30 636.35H481.90M486.30 638.74H484.00M486.30 641.12H484.00M486.30 643.51H484.00M486.30 645.89H484.00M486.30 648.28H481.90M486.30 650.66H484.00M486.30 653.05H484.00M486.30 655.43H484.00M486.30 657.82H484.00M486.30 660.20H481.90M486.30 660.20V664.60M493.82 660.20V662.50M501.34 660.20V662.50M508.87 660.20V662.50M516.39 660.20V662.50M523.91 660.20V664.60M531.43 660.20V662.50M538.95 660.20V662.50M546.48 660.20V662.50M554.00 660.20V662.50M561.52 660.20V664.60M569.04 660.20V662.50M576.56 660.20V662.50M584.09 660.20V662.50M591.61 660.20V662.50M599.13 660.20V664.60M606.65 660.20V662.50M614.17 660.20V662.50M621.70 660.20V662.50M629.22 660.20V662.50M636.74 660.20V664.60M644.26 660.20V662.50M651.78 660.20V662.50M659.31 660.20V662.50M666.83 660.20V662.50M674.35 660.20V664.60M681.87 660.20V662.50M689.39 660.20V662.50M696.92 660.20V662.50M704.44 660.20V662.50M711.96 660.20V664.60M719.48 660.20V662.50M727.00 660.20V662.50M734.53 660.20V662.50M742.05 660.20V662.50M749.57 660.20V664.60M757.09 660.20V662.50M764.61 660.20V662.50M772.14 660.20V662.50M779.66 660.20V662.50M787.18 660.20V664.60M794.70 660.20V662.50M802.22 660.20V662.50M809.75 660.20V662.50M817.27 660.20V662.50M824.79 660.20V664.60M832.31 660.20V662.50M839.83 660.20V662.50M847.36 660.20V662.50M854.88 660.20V662.50M862.40 660.20V664.60" stroke="#333333" stroke-width="1.1" fill="none"/>
<text x="674.60" y="690.00" class="at" text-anchor="middle">Time(year)</text>
<text x="0" y="0" class="at" text-anchor="middle" transform="translate(455.50 555.40) rotate(-90)">Depth(m)</text>
<text x="859.60" y="652.30" class="pt" text-anchor="end">Right shoulders</text>
</svg>
</body></html>
